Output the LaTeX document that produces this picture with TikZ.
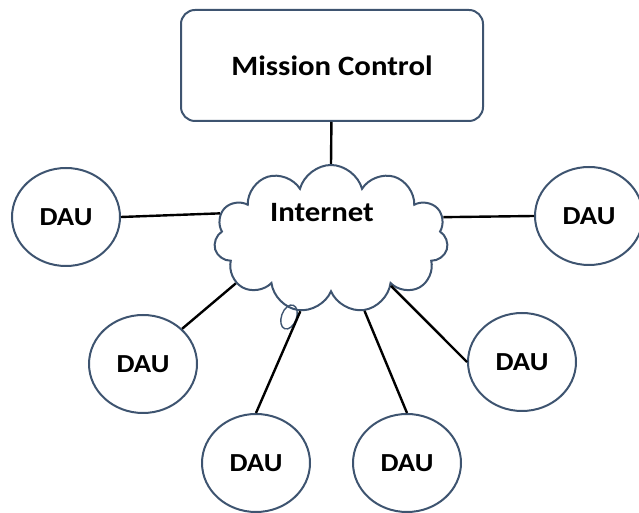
\documentclass[tikz,border=0pt]{standalone}
\usepackage{fontspec}
\setmainfont[FakeStretch=1.1]{Carlito}
\usepackage{tikz}
\usetikzlibrary{shapes.geometric, shapes.symbols}
\usetikzlibrary{positioning}
\definecolor{edgeblue}{RGB}{62,84,112}

\tikzset{
  dau/.style={ellipse, draw=edgeblue, line width=2pt, fill=white,
    minimum width=108pt, minimum height=98pt, inner sep=0pt,
    font=\bfseries\fontsize{26}{30}\selectfont},
  link/.style={draw=black, line width=2.4pt},
}

\begin{document}
\begin{tikzpicture}[x=1pt, y=1pt]
    \useasboundingbox (0,0) rectangle (639,513);

    \node[draw=edgeblue, line width=2pt, rounded corners=14pt,
      minimum width=302pt, minimum height=111pt,
      font=\bfseries\fontsize{28}{32}\selectfont] (mc) at (332,447.5) {Mission Control};
    \node[cloud, cloud puffs=11, cloud ignores aspect, draw=edgeblue, line width=2pt,
      fill=white, minimum width=234pt, minimum height=148pt] (inet) at (331,274) {};
    \node[font=\bfseries\fontsize{28}{32}\selectfont, xshift=-9pt, yshift=26pt] (inetlbl) at (inet) {Internet};
    \node[ellipse, draw=edgeblue, line width=1.4pt, minimum width=15pt,
      minimum height=25pt, rotate=-20] (tail) at (289,196) {};

    \node[dau] (dauL) at (66,296) {DAU};
    \node[dau] (dauR) at (589,297) {DAU};
    \node[dau] (dauLL) at (143,149) {DAU};
    \node[dau] (dauLR) at (522,151) {DAU};
    \node[dau] (dauBL) at (256,50) {DAU};
    \node[dau] (dauBR) at (407,50) {DAU};

    % Connect the nodes
    \draw[link] (mc) -- (inet.north);
    \draw[link] (dauL.east) -- (inet.167);
    \draw[link] (dauR.west) -- (inet.11);
    \draw[link] (dauLL.42) -- (inet.205);
    \draw[link] (dauBL.north) -- (inet.247);
    \draw[link] (dauBR.north) -- (inet.295);
    \draw[link] (dauLR.west) -- (inet.322);
  \end{tikzpicture}
\end{document}
